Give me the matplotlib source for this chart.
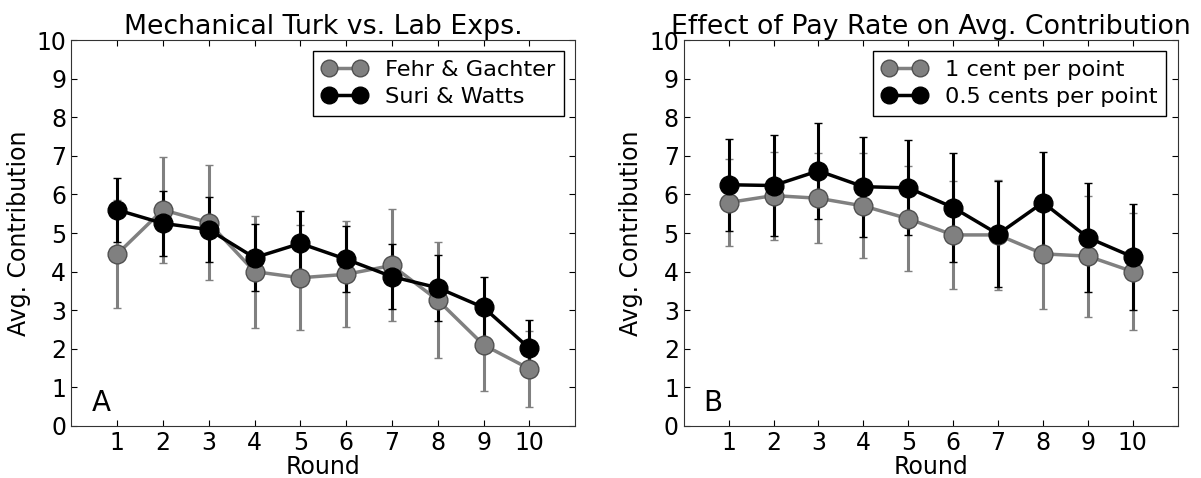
import numpy as np
import matplotlib
matplotlib.use('Agg')
import matplotlib.pyplot as plt
from matplotlib.lines import Line2D

rounds = np.arange(1, 11)

# Panel A: Mechanical Turk vs. lab experiments
fehr_mean = [4.45, 5.60, 5.27, 4.00, 3.84, 3.93, 4.16, 3.26, 2.10, 1.48]
fehr_err = [1.40, 1.37, 1.48, 1.45, 1.36, 1.37, 1.45, 1.50, 1.20, 0.98]
suri_mean = [5.60, 5.25, 5.09, 4.36, 4.73, 4.32, 3.87, 3.58, 3.07, 2.01]
suri_err = [0.83, 0.85, 0.84, 0.87, 0.85, 0.85, 0.85, 0.86, 0.80, 0.73]

# Panel B: effect of pay rate
cent1_mean = [5.79, 5.97, 5.90, 5.70, 5.37, 4.95, 4.95, 4.46, 4.40, 4.00]
cent1_err = [1.13, 1.14, 1.17, 1.36, 1.36, 1.40, 1.43, 1.44, 1.57, 1.51]
cent05_mean = [6.25, 6.23, 6.61, 6.20, 6.17, 5.66, 4.97, 5.79, 4.88, 4.38]
cent05_err = [1.19, 1.30, 1.24, 1.30, 1.23, 1.41, 1.38, 1.32, 1.42, 1.38]

plt.rcParams['font.family'] = 'DejaVu Sans'
plt.rcParams['xtick.direction'] = 'in'
plt.rcParams['ytick.direction'] = 'in'
plt.rcParams['xtick.top'] = True
plt.rcParams['ytick.right'] = True

fig = plt.figure(figsize=(12.01, 4.78), dpi=100)
axA = fig.add_axes([0.0593, 0.1088, 0.4197, 0.8075])
axB = fig.add_axes([0.5693, 0.1088, 0.4113, 0.8075])

gray_style = dict(color='#808080', mfc='#808080', mec='#505050')
black_style = dict(color='black', mfc='black', mec='black')


def draw(ax, m1, e1, m2, e2, lab1, lab2, title, letter):
    ax.errorbar(rounds, m1, yerr=e1, lw=2.5, elinewidth=2.2, marker='o',
                ms=13.5, mew=1, capsize=3, capthick=1, **gray_style)
    ax.errorbar(rounds, m2, yerr=e2, lw=2.5, elinewidth=2.2, marker='o',
                ms=13.5, mew=1, capsize=3, capthick=1, **black_style)
    ax.set_xlim(0, 11)
    ax.set_ylim(0, 10)
    ax.set_xticks(rounds)
    ax.set_yticks(range(0, 11))
    ax.tick_params(labelsize=17, length=4, width=0.8)
    ax.set_xlabel('Round', fontsize=17, labelpad=0)
    ax.set_ylabel('Avg. Contribution', fontsize=17, labelpad=4)
    ax.set_title(title, fontsize=19.3, pad=4)
    ax.text(0.04, 0.04, letter, transform=ax.transAxes, fontsize=20)
    handles = [Line2D([], [], lw=2.5, marker='o', ms=12, mew=1, **gray_style),
               Line2D([], [], lw=2.5, marker='o', ms=12, mew=1, **black_style)]
    leg = ax.legend(handles, [lab1, lab2], loc='upper right', numpoints=2,
                    fontsize=16.2, fancybox=False, framealpha=1,
                    borderaxespad=0.5, handlelength=2.0, labelspacing=0.3,
                    borderpad=0.4, handletextpad=0.8)
    leg.get_frame().set_edgecolor('black')
    for s in ax.spines.values():
        s.set_color('#333333')


draw(axA, fehr_mean, fehr_err, suri_mean, suri_err,
     'Fehr & Gachter', 'Suri & Watts', 'Mechanical Turk vs. Lab Exps.', 'A')
draw(axB, cent1_mean, cent1_err, cent05_mean, cent05_err,
     '1 cent per point', '0.5 cents per point',
     'Effect of Pay Rate on Avg. Contribution', 'B')

fig.savefig('out.png', dpi=100, facecolor='white')
